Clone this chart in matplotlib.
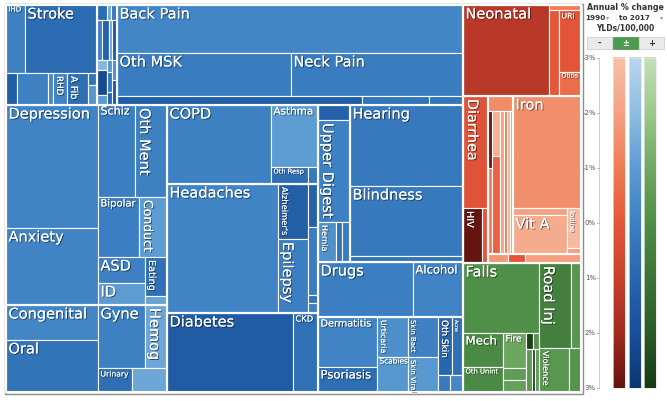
import matplotlib
matplotlib.use("Agg")
import matplotlib.pyplot as plt
from matplotlib.patches import Rectangle
from matplotlib.colors import LinearSegmentedColormap
import matplotlib.patheffects as pe
import numpy as np

plt.rcParams["font.family"] = ["DejaVu Sans"]

# ---------------- data: cell size = YLDs (relative units), colour = annual % change ----------------
cvd_causes = ["IHD", "Stroke", "HHD", "Oth CVD", "Cardiomyop", "RHD", "A Fib", "PAD", "Endocard"]
cvd_values = [1292, 4896, 352, 992, 160, 448, 672, 108, 180]
cvd_change = [0.0, 0.8, 1.4, 0.0, -0.3, -0.1, 0.7, 0.5, -0.8]

neo_causes = ["Breast C", "Prostate C", "Colorect C", "Lung C", "Oth Neo", "Leukemia", "Stomach C",
              "Liver C", "Cervical C", "Uterine C", "Bladder C", "Brain C", "Lymphoma", "Ovarian C", "Thyroid C"]
neo_values = [150, 60, 90, 200, 280, 120, 200, 100, 250, 100, 60, 100, 65, 100, 125]
neo_change = [0.8, -1.5, 0.3, 0.0, 1.2, -1.3, 1.5, -1.8, 2.2, -1.0, -0.8, 0.4, 1.0, -0.5, 1.6]

msk_causes = ["Back Pain", "Oth MSK", "Neck Pain", "Osteoarth", "Rheum Arth", "Gout"]
msk_values = [16608, 7482, 7396, 2205, 603, 306]
msk_change = [-0.2, 0.2, 0.2, 1.4, 0.5, 0.4]

ment_causes = ["Depression", "Anxiety", "Schiz", "Oth Ment", "Bipolar", "Conduct", "ASD", "ID", "Eating", "ADHD"]
ment_values = [11316, 7084, 3404, 2944, 2460, 1680, 1222, 1034, 858, 198]
ment_change = [-0.1, -0.1, 0.1, 0.0, 0.1, -1.0, 0.0, -1.0, 0.6, -1.2]

oth_causes = ["Congenital", "Oral", "Gyne", "Hemog", "Urinary", "Endocrine"]
oth_values = [3220, 4784, 2961, 1386, 816, 840]
oth_change = [-0.2, 0.5, 0.0, -1.3, 0.7, -1.3]

resp_causes = ["COPD", "Asthma", "Oth Resp", "ILD"]
resp_values = [8216, 2914, 629, 170]
resp_change = [0.0, -1.0, 0.7, 0.3]

neuro_causes = ["Headaches", "Alzheimer's", "Epilepsy", "Parkinson's", "MS", "Oth Neuro", "Motor Neuron"]
neuro_values = [14319, 1650, 2220, 430, 680, 80, 100]
neuro_change = [-0.1, 1.3, 0.1, 1.2, 0.2, 0.5, 0.0]

diab_causes = ["Diabetes", "CKD"]
diab_values = [9954, 1975]
diab_change = [1.5, 0.6]

dig_causes = ["Cirrhosis", "Upper Digest", "Hernia", "IBD", "Gallbladder"]
dig_values = [480, 3264, 720, 240, 320]
dig_change = [1.2, 0.0, -0.6, 0.5, 0.2]

sense_causes = ["Hearing", "Blindness", "Oth Sense"]
sense_values = [9153, 7910, 678]
sense_change = [0.3, 0.3, 0.5]

subst_causes = ["Drugs", "Alcohol"]
subst_values = [5225, 2750]
subst_change = [0.1, -0.1]

skin_causes = ["Dermatitis", "Psoriasis", "Urticaria", "Scabies", "Skin Bact", "Skin Viral",
               "Oth Skin", "Acne", "Pruritus", "Fungal"]
skin_values = [2950, 1475, 1240, 1085, 1200, 1050, 812, 638, 204, 221]
skin_change = [-0.1, 0.7, -0.5, -0.8, 0.0, -0.9, 1.0, 0.6, 0.3, -0.3]

comm_causes = ["Neonatal", "Oth Resp Inf", "LRI", "URI", "Otitis", "Diarrhea", "HIV", "Typhoid",
               "Maternal", "TB", "Dengue", "Malaria", "Intest Worms", "Schisto", "Lymph Fil", "Oncho",
               "Trachoma", "Iron", "Oth Nutr", "Vit A", "Iodine", "Protein-En", "Hepatitis", "STI", "Oth NTD"]
comm_values = [7826, 160, 860, 1364, 528, 2800, 1045, 330,
               375, 228, 344, 360, 784, 572, 429, 429,
               429, 7616, 378, 2106, 560, 84, 180, 153, 504]
comm_change = [1.4, -1.0, 0.0, 0.1, -0.6, 0.2, 3.0, 0.0,
               -1.4, 3.0, -1.0, -2.5, -0.3, -2.0, -1.0, -2.6,
               -1.8, -1.5, -2.0, -2.3, -2.8, -1.9, -1.7, 0.1, -1.9]

inj_causes = ["Falls", "Mech", "Oth Unint", "Fire", "Drowning", "Animal", "Conflict", "Poison",
              "Foreign Body", "Terrorism", "Heat", "Road Inj", "Oth Transp", "Violence", "Self-harm"]
inj_values = [5320, 1360, 1000, 805, 276, 276, 112, 96, 258, 129, 172, 2720, 850, 1320, 528]
inj_change = [0.0, 0.2, 0.2, -0.9, -0.5, -0.7, 2.8, -0.2, -0.4, 2.6, -0.5, 0.6, -0.3, -0.3, -0.2]

legend_ticks = [-3, -2, -1, 0, 1, 2, 3]

# ---------------- lookups ----------------
VALUE, CHANGE, FAMILY = {}, {}, {}
for fam, groups in [("blue", [(cvd_causes, cvd_values, cvd_change), (neo_causes, neo_values, neo_change),
                              (msk_causes, msk_values, msk_change), (ment_causes, ment_values, ment_change),
                              (oth_causes, oth_values, oth_change), (resp_causes, resp_values, resp_change),
                              (neuro_causes, neuro_values, neuro_change), (diab_causes, diab_values, diab_change),
                              (dig_causes, dig_values, dig_change), (sense_causes, sense_values, sense_change),
                              (subst_causes, subst_values, subst_change), (skin_causes, skin_values, skin_change)]),
                    ("red", [(comm_causes, comm_values, comm_change)]),
                    ("green", [(inj_causes, inj_values, inj_change)])]:
    for names, vals, chg in groups:
        for n, v, c in zip(names, vals, chg):
            VALUE[n], CHANGE[n], FAMILY[n] = v, c, fam

# ---------------- hierarchy (slice-and-dice: "h" = side by side, "v" = stacked) ----------------
N = neo_causes
TREE = ("h", [
    ("v", [
        ("h", [
            ("v", [("h", ["IHD", "Stroke"]),
                   ("h", ["HHD", "Oth CVD", "Cardiomyop", "RHD", "A Fib", ("v", ["PAD", "Endocard"])])], True),
            ("v", [("h", N[0:3]), ("h", N[3:7]),
                   ("h", [("v", N[7:10]), ("v", N[10:13]), ("v", N[13:15])])], True),
            ("v", ["Back Pain", ("h", ["Oth MSK", "Neck Pain"]), ("h", ["Osteoarth", "Rheum Arth", "Gout"])], True),
        ]),
        ("h", [
            ("v", [
                ("h", [("v", ["Depression", "Anxiety"]),
                       ("v", [("h", ["Schiz", "Oth Ment"]), ("h", ["Bipolar", "Conduct"]),
                              ("h", [("v", ["ASD", "ID"]), ("v", ["Eating", "ADHD"])])])], True),
                ("h", [("v", ["Congenital", "Oral"]),
                       ("v", [("h", ["Gyne", "Hemog"]), ("h", ["Urinary", "Endocrine"])])], True),
            ]),
            ("v", [
                ("h", ["COPD", ("v", ["Asthma", ("h", ["Oth Resp", "ILD"])])], True),
                ("h", ["Headaches", ("v", ["Alzheimer's", "Epilepsy"]),
                       ("v", ["Parkinson's", "MS", "Oth Neuro", "Motor Neuron"])], True),
                ("h", ["Diabetes", "CKD"], True),
            ]),
            ("v", [
                ("h", [("v", ["Cirrhosis", "Upper Digest", ("h", ["Hernia", "IBD", "Gallbladder"])], True),
                       ("v", ["Hearing", "Blindness", "Oth Sense"], True)]),
                ("h", ["Drugs", "Alcohol"], True),
                ("h", [("v", ["Dermatitis", "Psoriasis"]), ("v", ["Urticaria", "Scabies"]),
                       ("v", ["Skin Bact", "Skin Viral"]),
                       ("v", [("h", ["Oth Skin", "Acne"]), ("h", ["Pruritus", "Fungal"])])], True),
            ]),
        ]),
    ]),
    ("v", [
        ("v", [
            ("h", ["Neonatal", ("v", ["Oth Resp Inf", ("h", ["LRI", ("v", ["URI", "Otitis"])])])], True),
            ("h", [("v", ["Diarrhea", ("h", ["HIV", "Typhoid"])], True),
                   ("v", [("h", [("v", ["Maternal", ("h", [("v", ["TB", "Dengue"]), ("v", ["Malaria", "Intest Worms"]),
                                                           "Schisto", "Lymph Fil", "Oncho", "Trachoma"])], True),
                                 ("v", ["Iron", ("h", [("v", ["Oth Nutr", "Vit A"]), ("v", ["Iodine", "Protein-En"])])], True)]),
                          ("h", ["Hepatitis", "STI", "Oth NTD"])])]),
        ], True),
        ("h", [("v", ["Falls", ("h", [("v", ["Mech", "Oth Unint"]), ("v", ["Fire", "Drowning", "Animal"]),
                                      ("v", [("h", ["Conflict", "Poison"]), ("h", ["Foreign Body", "Terrorism", "Heat"])])])]),
               ("v", [("h", ["Road Inj", "Oth Transp"]), ("h", ["Violence", "Self-harm"])])], True),
    ]),
])

# ---------------- styles ----------------
BIG = 10.5
LABEL_STYLE = {
    "Stroke": (BIG, False), "IHD": (5, False), "RHD": (6.3, True), "A Fib": (7, True),
    "Back Pain": (BIG, False), "Oth MSK": (BIG, False), "Neck Pain": (BIG, False),
    "Depression": (BIG, False), "Anxiety": (BIG, False), "Schiz": (8, False), "Oth Ment": (BIG, True),
    "Bipolar": (7.2, False), "Conduct": (9, True), "ASD": (BIG, False), "ID": (BIG, False), "Eating": (7, True),
    "Congenital": (BIG, False), "Oral": (BIG, False), "Gyne": (BIG, False), "Hemog": (BIG, True),
    "Urinary": (5.5, False),
    "COPD": (BIG, False), "Asthma": (7.5, False), "Oth Resp": (4.8, False), "Headaches": (BIG, False),
    "Alzheimer's": (6, True), "Epilepsy": (BIG, True), "Diabetes": (BIG, False), "CKD": (6, False),
    "Upper Digest": (BIG, True), "Hernia": (5.8, True), "Hearing": (BIG, False), "Blindness": (BIG, False),
    "Drugs": (BIG, False), "Alcohol": (8.3, False), "Dermatitis": (7, False), "Psoriasis": (8.4, False),
    "Urticaria": (5.6, True), "Scabies": (5.3, False), "Skin Bact": (5, True), "Skin Viral": (5, True),
    "Oth Skin": (6.4, True), "Acne": (3.5, True),
    "Neonatal": (BIG, False), "URI": (5.5, False), "Otitis": (4.5, False), "Diarrhea": (10.3, True),
    "HIV": (7, True), "Iron": (BIG, False), "Vit A": (BIG, False), "Iodine": (5, True),
    "Falls": (BIG, False), "Road Inj": (BIG, True), "Mech": (8.5, False), "Fire": (6.5, False),
    "Oth Unint": (4.9, False), "Violence": (5.9, True),
}

CMAPS = {
    "red": LinearSegmentedColormap.from_list("r", ["#f8c0a8", "#f4a282", "#ef7c57", "#e5573a",
                                                   "#c9422e", "#a22c20", "#651410"]),
    "blue": LinearSegmentedColormap.from_list("b", ["#bcd5ed", "#8fbde2", "#5c9cd2", "#3d81c3",
                                                    "#2867ae", "#18509a", "#0c3872"]),
    "green": LinearSegmentedColormap.from_list("g", ["#c5e0b7", "#9cc98c", "#70a864", "#4f8f47",
                                                     "#3c7536", "#2b5b28", "#173b17"]),
}


def color_of(name):
    return CMAPS[FAMILY[name]]((CHANGE[name] + 3) / 6.0)


def total(node):
    if isinstance(node, str):
        return VALUE[node]
    return sum(total(k) for k in node[1])


leaves, groups = [], []


def layout(node, x, y, w, h):
    if isinstance(node, str):
        leaves.append((node, x, y, w, h))
        return
    d, kids = node[0], node[1]
    if len(node) > 2 and node[2]:
        groups.append((x, y, w, h))
    T = float(total(node))
    pos = 0.0
    for k in kids:
        f = total(k) / T
        if d == "h":
            layout(k, x + pos * w, y, f * w, h)
        else:
            layout(k, x, y + pos * h, w, f * h)
        pos += f


# treemap area on the canvas (pixels)
TX0, TY0, TX1, TY1 = 6, 5, 581, 392
layout(TREE, TX0, TY0, TX1 - TX0, TY1 - TY0)

fig = plt.figure(figsize=(6.67, 4.01), dpi=100)
ax = fig.add_axes([0, 0, 1, 1])
ax.set_xlim(0, 667)
ax.set_ylim(401, 0)
ax.axis("off")

# frame
ax.add_patch(Rectangle((TX0 - 1.5, TY0 - 1.5), TX1 - TX0 + 3, TY1 - TY0 + 3, facecolor="white",
                       edgecolor="#8c8c8c", lw=1.0, zorder=0))

shadow = [pe.withSimplePatchShadow(offset=(0.7, -0.7), shadow_rgbFace=(0, 0, 0), alpha=0.55), pe.Normal()]

for name, x, y, w, h in leaves:
    ax.add_patch(Rectangle((x, y), w, h, facecolor=color_of(name), edgecolor="white", lw=0.8, zorder=1))
    if name in LABEL_STYLE:
        fs, rot = LABEL_STYLE[name]
        if rot:
            ax.text(x + 2.0, y + 3.0, name, rotation=-90, ha="left", va="top", fontsize=fs,
                    color="white", path_effects=shadow, zorder=3)
        else:
            ax.text(x + 2.5, y + 1.5, name, ha="left", va="top", fontsize=fs,
                    color="white", path_effects=shadow, zorder=3)

for x, y, w, h in groups:
    ax.add_patch(Rectangle((x, y), w, h, facecolor="none", edgecolor="white", lw=1.5, zorder=2))

# ---------------- legend ----------------
ax.text(625, 8, "Annual % change", ha="center", va="center", fontsize=5.7, fontweight="bold", color="#333333")
ax.text(595, 18, "1990", ha="center", va="center", fontsize=5.2, fontweight="bold", color="#333333")
ax.text(607.5, 18, "\u25be", ha="center", va="center", fontsize=4.5, color="#9a9a9a")
ax.text(634, 18, "to 2017", ha="center", va="center", fontsize=5.2, fontweight="bold", color="#333333")
ax.text(662, 18, "\u25be", ha="center", va="center", fontsize=4.5, color="#9a9a9a")
ax.text(625, 28.5, "YLDs/100,000", ha="center", va="center", fontsize=5.5, fontweight="bold", color="#333333")

btn_labels = ["-", "\u00b1", "+"]
for i, lab in enumerate(btn_labels):
    bx = 587 + i * 26
    active = lab == "\u00b1"
    ax.add_patch(Rectangle((bx, 37), 25, 12, facecolor="#4c9a4f" if active else "#ebebeb",
                           edgecolor="#d0d0d0" if not active else "#4c9a4f", lw=0.6))
    ax.text(bx + 12.5, 43, lab, ha="center", va="center", fontsize=6, fontweight="bold",
            color="white" if active else "#333333")

YTOP, YBOT = 57.5, 388
grad = np.linspace(-3, 3, 300).reshape(-1, 1)
for fam, bx in [("red", 613), ("blue", 628.5), ("green", 644)]:
    ax.imshow(grad, cmap=CMAPS[fam], vmin=-3, vmax=3, extent=(bx, bx + 12, YBOT, YTOP),
              aspect="auto", origin="upper", zorder=1, interpolation="bilinear")
    ax.add_patch(Rectangle((bx, YTOP), 12, YBOT - YTOP, facecolor="none", edgecolor="#e6e6e6", lw=0.5, zorder=2))

ax.plot([599, 599], [YTOP, YBOT], color="#c8c8c8", lw=0.6)
for t in legend_ticks:
    yy = YTOP + (t + 3) / 6.0 * (YBOT - YTOP)
    ax.plot([597, 599], [yy, yy], color="#aaaaaa", lw=0.6)
    ax.text(596, yy, f"{t}%", ha="right", va="center", fontsize=5, color="#555555")

ax.set_xlim(0, 667)
ax.set_ylim(401, 0)
fig.savefig("out.png", dpi=100)
